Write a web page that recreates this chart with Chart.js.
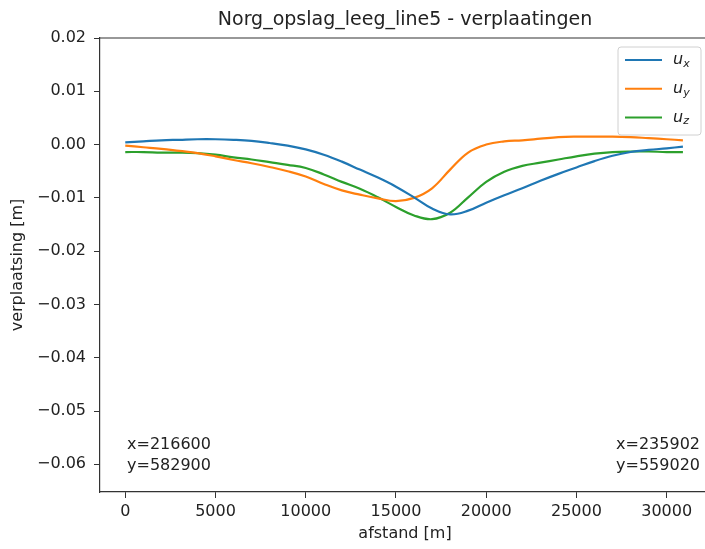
<!DOCTYPE html>
<html>
<head>
<meta charset="utf-8">
<script src="https://cdn.jsdelivr.net/npm/chart.js@4.4.1/dist/chart.umd.min.js"></script>
<style>
html, body { margin: 0; padding: 0; overflow: hidden; background: #fff; }
</style>
</head>
<body>
<canvas id="myChart" width="720" height="549"></canvas>
<script>
/*global Chart*/

// afstand along the line [m]
var distance = [0, 1000, 2000, 3000, 4000, 5000, 6000, 7000, 8000, 9000, 10000,
                11000, 12000, 13000, 14000, 15000, 16000, 17000, 18000, 19000, 20000,
                21000, 22000, 23000, 24000, 25000, 26000, 27000, 28000, 29000, 30000, 30900];
// verplaatsing [m]
var ux = [0.0004, 0.0006, 0.0008, 0.0009, 0.0010, 0.0010, 0.0009, 0.0007, 0.0003, -0.0002, -0.0009,
          -0.0019, -0.0032, -0.0047, -0.0062, -0.0079, -0.0099, -0.0120, -0.0131, -0.0124, -0.0109,
          -0.0095, -0.0082, -0.0068, -0.0055, -0.0043, -0.0031, -0.0021, -0.0014, -0.0010, -0.0007, -0.0004];
var uy = [-0.0002, -0.0005, -0.0008, -0.0012, -0.0016, -0.0022, -0.0029, -0.0035, -0.0042, -0.0050, -0.0060,
          -0.0074, -0.0086, -0.0094, -0.0101, -0.0106, -0.0100, -0.0082, -0.0047, -0.0015, 0.0000,
          0.0006, 0.0008, 0.0011, 0.0014, 0.0015, 0.0015, 0.0015, 0.0014, 0.0012, 0.0010, 0.0008];
var uz = [-0.0014, -0.0014, -0.0015, -0.0015, -0.0016, -0.0019, -0.0024, -0.0028, -0.0033, -0.0038, -0.0044,
          -0.0056, -0.0070, -0.0083, -0.0099, -0.0117, -0.0133, -0.0140, -0.0128, -0.0099, -0.0070,
          -0.0051, -0.0040, -0.0034, -0.0028, -0.0022, -0.0017, -0.0014, -0.0013, -0.0013, -0.0014, -0.0014];

var subscripts = ["x", "y", "z"];
var colors = ["#1f77b4", "#ff7f0e", "#2ca02c"];

var xTicks = [0, 5000, 10000, 15000, 20000, 25000, 30000];
var yTicks = [0.02, 0.01, 0, -0.01, -0.02, -0.03, -0.04, -0.05, -0.06];

var titleText = "Norg_opslag_leeg_line5 - verplaatingen";
var startLabel = ["x=216600", "y=582900"];
var endLabel = ["x=235902", "y=559020"];

Chart.defaults.font.family = "'DejaVu Sans', sans-serif";
Chart.defaults.font.size = 16;
Chart.defaults.color = "#222";

function points(values) {
    return values.map(function (v, i) { return { x: distance[i], y: v }; });
}

var datasets = [ux, uy, uz].map(function (values, i) {
    return {
        label: "u" + subscripts[i],
        data: points(values),
        borderColor: colors[i],
        backgroundColor: colors[i],
        borderWidth: 2.2,
        pointRadius: 0,
        fill: false,
        tension: 0.4
    };
});

var extras = {
    id: "extras",
    afterDraw: function (chart) {
        var ctx = chart.ctx;
        var a = chart.chartArea;
        ctx.save();

        // top and right frame
        ctx.strokeStyle = "#333";
        ctx.lineWidth = 1.2;
        ctx.beginPath();
        ctx.moveTo(a.left, a.top);
        ctx.lineTo(a.right, a.top);
        ctx.lineTo(a.right, a.bottom);
        ctx.stroke();

        // title centred over the axes
        ctx.fillStyle = "#222";
        ctx.font = "19px 'DejaVu Sans'";
        ctx.textAlign = "center";
        ctx.textBaseline = "middle";
        ctx.fillText(titleText, (a.left + a.right) / 2, 20);

        // coordinates of start and end
        ctx.font = "16px 'DejaVu Sans'";
        ctx.textAlign = "left";
        ctx.fillText(startLabel[0], a.left + 27, a.bottom - 47);
        ctx.fillText(startLabel[1], a.left + 27, a.bottom - 26);
        ctx.textAlign = "right";
        ctx.fillText(endLabel[0], a.right - 10, a.bottom - 47);
        ctx.fillText(endLabel[1], a.right - 10, a.bottom - 26);

        // legend
        var bx = a.right - 92, by = a.top + 9, bw = 83, bh = 88;
        ctx.fillStyle = "rgba(255,255,255,0.85)";
        ctx.strokeStyle = "#d0d0d0";
        ctx.lineWidth = 1;
        ctx.beginPath();
        ctx.roundRect(bx, by, bw, bh, 3);
        ctx.fill();
        ctx.stroke();
        chart.data.datasets.forEach(function (ds, i) {
            var y = by + 13 + i * 28.7;
            ctx.strokeStyle = ds.borderColor;
            ctx.lineWidth = 2;
            ctx.beginPath();
            ctx.moveTo(bx + 7, y);
            ctx.lineTo(bx + 44, y);
            ctx.stroke();
            ctx.fillStyle = "#222";
            ctx.textAlign = "left";
            ctx.font = "italic 16px 'DejaVu Sans'";
            ctx.fillText("u", bx + 55, y);
            var w = ctx.measureText("u").width;
            ctx.font = "italic 11px 'DejaVu Sans'";
            ctx.fillText(subscripts[i], bx + 55 + w, y + 4);
        });
        ctx.restore();
    }
};

var ctx = document.getElementById("myChart");
var chart = new Chart(ctx, {
    type: "line",
    data: { datasets: datasets },
    options: {
        responsive: false,
        animation: false,
        layout: { padding: { left: 0, top: 38, right: 10, bottom: 0 } },
        plugins: {
            legend: { display: false },
            tooltip: { enabled: false }
        },
        scales: {
            x: {
                type: "linear",
                min: -1400,
                max: 32400,
                afterBuildTicks: function (scale) {
                    scale.ticks = xTicks.map(function (v) { return { value: v }; });
                },
                afterFit: function (scale) {
                    scale.height = 57;
                    scale.paddingLeft = 0;
                    scale.paddingRight = 0;
                },
                ticks: {
                    color: "#222",
                    padding: 4,
                    maxRotation: 0,
                    callback: function (v) { return String(v); }
                },
                grid: {
                    display: true,
                    drawOnChartArea: false,
                    drawTicks: true,
                    tickLength: 6,
                    color: "#333"
                },
                border: { display: true, color: "#333", width: 1.2 },
                title: {
                    display: true,
                    text: "afstand [m]",
                    color: "#222",
                    font: { size: 16 },
                    padding: { top: 0, bottom: 6 }
                }
            },
            y: {
                type: "linear",
                min: -0.0652,
                max: 0.02,
                afterBuildTicks: function (scale) {
                    scale.ticks = yTicks.map(function (v) { return { value: v }; });
                },
                afterFit: function (scale) {
                    scale.width = 100;
                    scale.paddingTop = 0;
                    scale.paddingBottom = 0;
                },
                ticks: {
                    color: "#222",
                    padding: 8,
                    callback: function (v) { return v.toFixed(2).replace("-", "\u2212"); }
                },
                grid: {
                    display: true,
                    drawOnChartArea: false,
                    drawTicks: true,
                    tickLength: 6,
                    color: "#333"
                },
                border: { display: true, color: "#333", width: 1.2 },
                title: {
                    display: true,
                    text: "verplaatsing [m]",
                    color: "#222",
                    font: { size: 16 },
                    padding: { top: 8, bottom: 0 }
                }
            }
        }
    },
    plugins: [extras]
});
</script>
</body>
</html>
